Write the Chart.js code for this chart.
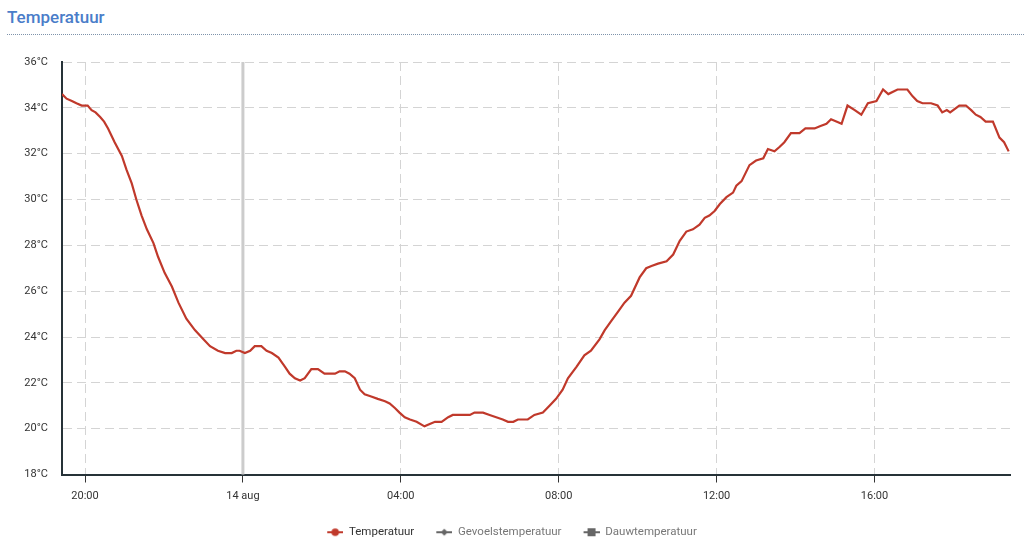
<!DOCTYPE html>
<html>
<head>
<meta charset="utf-8">
<script src="https://cdn.jsdelivr.net/npm/chart.js@4.4.1/dist/chart.umd.min.js"></script>
<style>
  html, body { margin: 0; background: #fff; }
  .title { position: absolute; left: 7px; top: 7px; font: 500 17px Roboto, sans-serif; color: #4a7dc9; }
  .rule { position: absolute; left: 7px; right: 0; top: 34px; border-top: 1px dotted #7f93ab; }
  .wrap { position: absolute; left: 0; top: 40px; width: 1024px; height: 518px; }
</style>
</head>
<body>
<div class="title">Temperatuur</div>
<div class="rule"></div>
<div class="wrap"><canvas id="chart"></canvas></div>
<script>
// readings from 13 aug 19:25 to 14 aug 19:25
const times = [
  "19:25", "19:32", "19:40", "19:47", "19:55", "20:04", "20:10", "20:16", "20:23", "20:29",
  "20:35", "20:45", "20:56", "21:03", "21:11", "21:18", "21:26", "21:34", "21:44", "21:51",
  "22:01", "22:12", "22:22", "22:34", "22:47", "23:00", "23:10", "23:22", "23:33", "23:43",
  "23:50", "23:55", "00:03", "00:11", "00:18", "00:28", "00:36", "00:44", "00:54", "01:04",
  "01:11", "01:19", "01:27", "01:34", "01:44", "01:54", "02:04", "02:20", "02:27", "02:35",
  "02:42", "02:50", "02:58", "03:05", "03:15", "03:25", "03:36", "03:43", "03:51", "03:58",
  "04:06", "04:14", "04:24", "04:36", "04:44", "04:52", "05:02", "05:12", "05:19", "05:34",
  "05:45", "05:52", "06:05", "06:15", "06:25", "06:35", "06:43", "06:51", "06:58", "07:13",
  "07:23", "07:36", "07:46", "07:56", "08:06", "08:14", "08:27", "08:39", "08:49", "09:02",
  "09:10", "09:20", "09:30", "09:40", "09:50", "10:03", "10:13", "10:21", "10:31", "10:44",
  "10:54", "11:04", "11:14", "11:24", "11:34", "11:42", "11:49", "11:57", "12:05", "12:15",
  "12:25", "12:30", "12:38", "12:50", "13:00", "13:11", "13:18", "13:28", "13:36", "13:43",
  "13:53", "14:06", "14:15", "14:29", "14:37", "14:47", "14:54", "15:02", "15:10", "15:19",
  "15:30", "15:40", "15:50", "16:03", "16:13", "16:21", "16:35", "16:50", "16:58", "17:05",
  "17:13", "17:26", "17:36", "17:43", "17:50", "17:55", "18:09", "18:19", "18:27", "18:34",
  "18:41", "18:49", "19:00", "19:10", "19:17", "19:24"
];
const temperatuur = [
  34.6, 34.4, 34.3, 34.2, 34.1, 34.1, 33.9, 33.8, 33.6, 33.4,
  33.1, 32.5, 31.9, 31.3, 30.7, 30.0, 29.3, 28.7, 28.1, 27.5,
  26.8, 26.2, 25.5, 24.8, 24.3, 23.9, 23.6, 23.4, 23.3, 23.3,
  23.4, 23.4, 23.3, 23.4, 23.6, 23.6, 23.4, 23.3, 23.1, 22.7,
  22.4, 22.2, 22.1, 22.2, 22.6, 22.6, 22.4, 22.4, 22.5, 22.5,
  22.4, 22.2, 21.7, 21.5, 21.4, 21.3, 21.2, 21.1, 20.9, 20.7,
  20.5, 20.4, 20.3, 20.1, 20.2, 20.3, 20.3, 20.5, 20.6, 20.6,
  20.6, 20.7, 20.7, 20.6, 20.5, 20.4, 20.3, 20.3, 20.4, 20.4,
  20.6, 20.7, 21.0, 21.3, 21.7, 22.2, 22.7, 23.2, 23.4, 23.9,
  24.3, 24.7, 25.1, 25.5, 25.8, 26.6, 27.0, 27.1, 27.2, 27.3,
  27.6, 28.2, 28.6, 28.7, 28.9, 29.2, 29.3, 29.5, 29.8, 30.1,
  30.3, 30.6, 30.8, 31.5, 31.7, 31.8, 32.2, 32.1, 32.3, 32.5,
  32.9, 32.9, 33.1, 33.1, 33.2, 33.3, 33.5, 33.4, 33.3, 34.1,
  33.9, 33.7, 34.2, 34.3, 34.8, 34.6, 34.8, 34.8, 34.5, 34.3,
  34.2, 34.2, 34.1, 33.8, 33.9, 33.8, 34.1, 34.1, 33.9, 33.7,
  33.6, 33.4, 33.4, 32.7, 32.5, 32.1
];
const gevoelstemperatuur = [];
const dauwtemperatuur = [];

// x values are hours since 13 aug 00:00
const xMin = 19 + 25 / 60;
const xMax = 43 + 26 / 60;
const xTicks = [20, 24, 28, 32, 36, 40];
const xTickLabels = ["20:00", "14 aug", "04:00", "08:00", "12:00", "16:00"];
const dayStart = 24;
const yMin = 18, yMax = 36, yStep = 2;

let day = 0, last = -1;
const hours = times.map(t => {
  const [h, m] = t.split(":").map(Number);
  let v = h + m / 60;
  if (v < last) day++;
  last = v;
  return v + day * 24;
});
const points = hours.map((h, i) => ({ x: h, y: temperatuur[i] }));

// legend marker: short line with a symbol, a little empty room on the left
function legendIcon(color, shape) {
  const c = document.createElement("canvas");
  c.width = 22; c.height = 10;
  const g = c.getContext("2d");
  g.translate(6, 0);
  g.strokeStyle = color; g.fillStyle = color; g.lineWidth = 2;
  g.beginPath(); g.moveTo(0, 5); g.lineTo(16, 5); g.stroke();
  g.beginPath();
  if (shape === "circle") g.arc(8, 5, 3.8, 0, Math.PI * 2);
  else if (shape === "diamond") { g.moveTo(8, 1.5); g.lineTo(11.5, 5); g.lineTo(8, 8.5); g.lineTo(4.5, 5); g.closePath(); }
  else g.rect(4, 1, 8, 8);
  g.fill();
  return c;
}

const lineRed = "#c0392b";
const font = { family: "Roboto, sans-serif", size: 11 };

// solid grey line at the day boundary
const dayLine = {
  id: "dayLine",
  beforeDatasetsDraw(chart) {
    const { ctx, chartArea, scales } = chart;
    const x = scales.x.getPixelForValue(dayStart);
    ctx.save();
    ctx.strokeStyle = "#cccccc";
    ctx.lineWidth = 3;
    ctx.beginPath();
    ctx.moveTo(x, chartArea.top);
    ctx.lineTo(x, chartArea.bottom);
    ctx.stroke();
    ctx.restore();
  }
};

new Chart("chart", {
  type: "line",
  data: {
    datasets: [
      {
        label: "Temperatuur",
        data: points,
        borderColor: lineRed,
        backgroundColor: lineRed,
        borderWidth: 2.2,
        pointRadius: 0,
        tension: 0,
        pointStyle: legendIcon(lineRed, "circle"),
      },
      {
        label: "Gevoelstemperatuur",
        data: gevoelstemperatuur,
        borderColor: "#666",
        pointStyle: legendIcon("#666", "diamond"),
      },
      {
        label: "Dauwtemperatuur",
        data: dauwtemperatuur,
        borderColor: "#666",
        pointStyle: legendIcon("#666", "square"),
      },
    ],
  },
  options: {
    responsive: true,
    maintainAspectRatio: false,
    animation: false,
    layout: { padding: { top: 22, right: 14, bottom: 10, left: 8 } },
    scales: {
      x: {
        type: "linear",
        min: xMin,
        max: xMax,
        afterBuildTicks: axis => { axis.ticks = xTicks.map(v => ({ value: v })); },
        afterFit: axis => { axis.height = 36; },
        ticks: {
          color: "#333",
          font: font,
          padding: 7,
          maxRotation: 0,
          callback: v => xTickLabels[xTicks.indexOf(v)],
        },
        grid: {
          color: "#d4d4d4",
          lineWidth: 1,
          drawTicks: true,
          tickLength: 8,
          tickColor: "#333",
          tickWidth: 1,
        },
        border: { display: true, color: "#263238", width: 2, dash: [9, 5] },
      },
      y: {
        min: yMin,
        max: yMax,
        afterFit: axis => { axis.width = 54; },
        ticks: {
          stepSize: yStep,
          color: "#333",
          font: font,
          padding: 14,
          callback: v => v + "°C",
        },
        grid: { color: "#d4d4d4", lineWidth: 1, drawTicks: false },
        border: { display: true, color: "#263238", width: 2, dash: [9, 5] },
      },
    },
    plugins: {
      tooltip: { enabled: false },
      legend: {
        position: "bottom",
        labels: {
          usePointStyle: true,
          pointStyleWidth: 22,
          boxHeight: 10,
          padding: 16,
          font: { family: "Roboto, sans-serif", size: 11.5 },
          generateLabels: chart => {
            const items = Chart.defaults.plugins.legend.labels.generateLabels(chart);
            items.forEach((it, i) => { it.fontColor = i === 0 ? "#333" : "#777"; });
            return items;
          },
        },
      },
    },
  },
  plugins: [dayLine],
});
</script>
</body>
</html>
